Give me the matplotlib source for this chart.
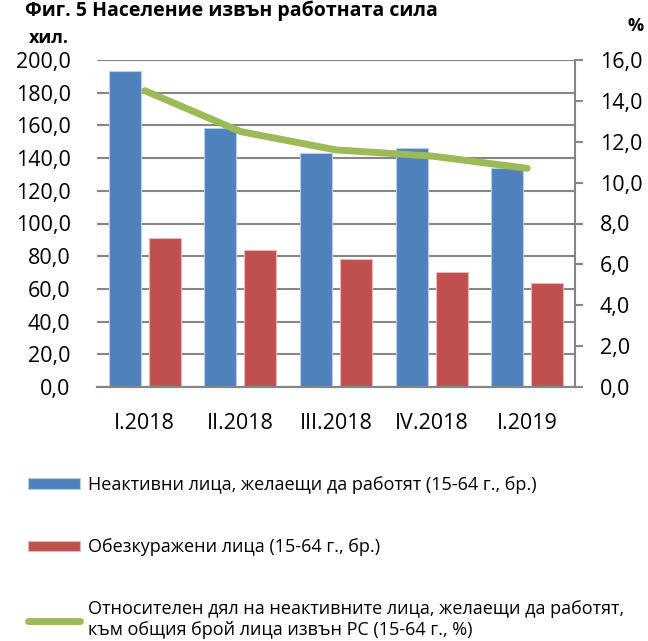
import matplotlib.pyplot as plt
import numpy as np

plt.rcParams['font.family'] = ['Open Sans', 'DejaVu Sans']

# данни
quarters = ['I.2018', 'II.2018', 'III.2018', 'IV.2018', 'I.2019']
inactive = [193.3, 158.4, 142.9, 146.4, 134.0]        # хил.
discouraged = [91.4, 84.0, 78.5, 70.6, 63.4]          # хил.
share = [14.5, 12.5, 11.6, 11.3, 10.7]                # %

lbl_inactive = 'Неактивни лица, желаещи да работят (15-64 г., бр.)'
lbl_discouraged = 'Обезкуражени лица (15-64 г., бр.)'
lbl_share = ('Относителен дял на неактивните лица, желаещи да работят,\n'
             'към общия брой лица извън РС (15-64 г., %)')

blue = '#4F81BD'
red = '#C0504D'
green = '#9BBB59'
grey = '#868686'

fig = plt.figure(figsize=(6.48, 6.41), dpi=100)
ax = fig.add_axes([97 / 648, 1 - 387 / 641, 478 / 648, 327 / 641])
ax2 = ax.twinx()

x = np.arange(len(quarters))
w = 0.335
off = 0.21
b1 = ax.bar(x - off, inactive, w, color=blue, edgecolor='#B9CDE5', linewidth=0.8, zorder=3)
b2 = ax.bar(x + off, discouraged, w, color=red, edgecolor='#E6B9B8', linewidth=0.8, zorder=3)
l1, = ax2.plot(x, share, color=green, lw=5, solid_capstyle='round', zorder=4)

ax.set_xlim(-0.5, len(quarters) - 0.5)
ax.set_ylim(0, 200)
ax.set_yticks(np.arange(0, 201, 20))
ax.set_yticklabels([f'{v:.1f}'.replace('.', ',') for v in np.arange(0, 201, 20)])
ax2.set_ylim(0, 16)
ax2.set_yticks(np.arange(0, 17, 2))
ax2.set_yticklabels([f'{v:.1f}'.replace('.', ',') for v in np.arange(0, 17, 2)])

ax.yaxis.grid(True, color=grey, lw=1.5, zorder=0)
ax.set_axisbelow(True)
ax.set_xticks(x)
ax.set_xticklabels(quarters)
ax.tick_params(axis='x', length=0, pad=19, labelsize=15.5)
ax.tick_params(axis='y', length=0, pad=19, labelsize=15.5)
ax2.tick_params(axis='y', length=6, width=1.5, color=grey, direction='out', pad=12, labelsize=15.5)

for a in (ax, ax2):
    a.spines['top'].set_visible(False)
    a.spines['left'].set_visible(False)
    a.spines['right'].set_visible(False)
    a.spines['bottom'].set_color(grey)
    a.spines['bottom'].set_linewidth(1.5)
ax2.spines['right'].set_visible(True)
ax2.spines['right'].set_color(grey)
ax2.spines['right'].set_linewidth(1.5)

fig.text(25 / 648, 1 - 16 / 641, 'Фиг. 5 Население извън работната сила',
         fontsize=14, fontweight='bold', va='baseline', ha='left')
fig.text(29 / 648, 1 - 43 / 641, 'хил.', fontsize=13, fontweight='bold', va='baseline')
fig.text(627 / 648, 1 - 31 / 641, '%', fontsize=13, fontweight='bold', va='baseline')

fig.legend([b1, b2, l1], [lbl_inactive, lbl_discouraged, lbl_share],
           loc='upper left', bbox_to_anchor=(28 / 648, 1 - 476 / 641),
           frameon=False, fontsize=13, handlelength=2.9, handleheight=0.5,
           handletextpad=0.4, labelspacing=2.45, borderpad=0, borderaxespad=0)

fig.savefig('out.png', dpi=100)
